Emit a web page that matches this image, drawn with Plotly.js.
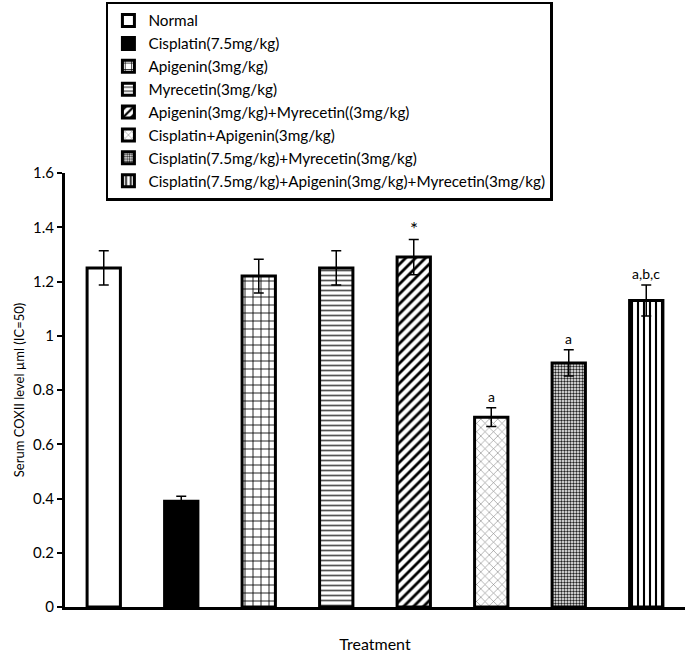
<!DOCTYPE html>
<html>
<head>
<meta charset="utf-8">
<script src="https://cdn.plot.ly/plotly-3.0.1.min.js"></script>
<style>html,body{margin:0;padding:0;background:#fff;}#chart{width:687px;height:654px;}</style>
</head>
<body>
<div id="chart"></div>
<script>
const categories = [
  'Normal',
  'Cisplatin(7.5mg/kg)',
  'Apigenin(3mg/kg)',
  'Myrecetin(3mg/kg)',
  'Apigenin(3mg/kg)+Myrecetin((3mg/kg)',
  'Cisplatin+Apigenin(3mg/kg)',
  'Cisplatin(7.5mg/kg)+Myrecetin(3mg/kg)',
  'Cisplatin(7.5mg/kg)+Apigenin(3mg/kg)+Myrecetin(3mg/kg)'
];
const values = [1.25, 0.39, 1.22, 1.25, 1.29, 0.70, 0.90, 1.13];
const errors = [0.063, 0.018, 0.062, 0.063, 0.065, 0.035, 0.048, 0.057];
const sigLabels = ['', '', '', '', '*', 'a', 'a', 'a,b,c'];

const fills = [
  {color: '#ffffff', pattern: {shape: ''}},
  {color: '#000000', pattern: {shape: ''}},
  {color: '#ffffff', pattern: {shape: '+', fgcolor: '#000', size: 8, solidity: 0.2}},
  {color: '#ffffff', pattern: {shape: '-', fgcolor: '#555', size: 5, solidity: 0.35}},
  {color: '#ffffff', pattern: {shape: '/', fgcolor: '#000', size: 7, solidity: 0.4}},
  {color: '#ffffff', pattern: {shape: 'x', fgcolor: '#888', size: 6, solidity: 0.2}},
  {color: '#ffffff', pattern: {shape: '.', fgcolor: '#222', size: 3, solidity: 0.5}},
  {color: '#ffffff', pattern: {shape: '|', fgcolor: '#000', size: 6, solidity: 0.35}}
];

const traces = categories.map((c, i) => ({
  type: 'bar',
  name: c,
  legendgroup: 'g' + i,
  x: [c],
  y: [values[i]],
  width: 0.43,
  marker: {
    color: fills[i].color,
    pattern: fills[i].pattern,
    line: {color: '#000', width: 3}
  },
  error_y: {type: 'data', array: [errors[i]], visible: true, color: '#000', thickness: 1.5, width: 5},
  hoverinfo: 'skip'
}));

const annotations = categories.map((c, i) => ({
  x: c, y: values[i] + errors[i], xref: 'x', yref: 'y',
  text: sigLabels[i], showarrow: false, yanchor: 'bottom', yshift: sigLabels[i] === '*' ? -3 : 1,
  font: {family: 'Lato, sans-serif', size: sigLabels[i] === '*' ? 19 : 14, color: '#000'}
})).filter(a => a.text !== '');

const layout = {
  width: 687, height: 654,
  margin: {l: 65, r: 2, t: 171, b: 47},
  paper_bgcolor: '#fff', plot_bgcolor: '#fff',
  barmode: 'overlay',
  font: {family: 'Lato, sans-serif', color: '#000'},
  xaxis: {
    type: 'category',
    categoryorder: 'array', categoryarray: categories,
    range: [-0.5, 7.5],
    showticklabels: false, ticks: '',
    showline: true, linecolor: '#000', linewidth: 3,
    showgrid: false, zeroline: false,
    title: {text: 'Treatment', font: {size: 16}, standoff: 30}
  },
  yaxis: {
    range: [0, 1.6],
    tickvals: [0, 0.2, 0.4, 0.6, 0.8, 1, 1.2, 1.4, 1.6],
    ticktext: ['0', '0.2', '0.4', '0.6', '0.8', '1', '1.2', '1.4', '1.6'],
    ticks: 'outside', ticklen: 5, tickwidth: 2, tickcolor: '#000',
    tickfont: {size: 15},
    showline: true, linecolor: '#000', linewidth: 3,
    showgrid: false, zeroline: false,
    title: {text: 'Serum COXII level µml (IC=50)', font: {size: 13}, standoff: 6}
  },
  showlegend: true,
  legend: {
    x: 0.066, y: 1.395, xanchor: 'left', yanchor: 'top',
    bgcolor: '#fff', bordercolor: '#000', borderwidth: 2.5,
    font: {size: 15.3, color: '#000'},
    tracegroupgap: 0.5,
    traceorder: 'normal'
  },
  annotations: annotations
};

Plotly.newPlot('chart', traces, layout, {displayModeBar: false, staticPlot: true});
</script>
</body>
</html>
